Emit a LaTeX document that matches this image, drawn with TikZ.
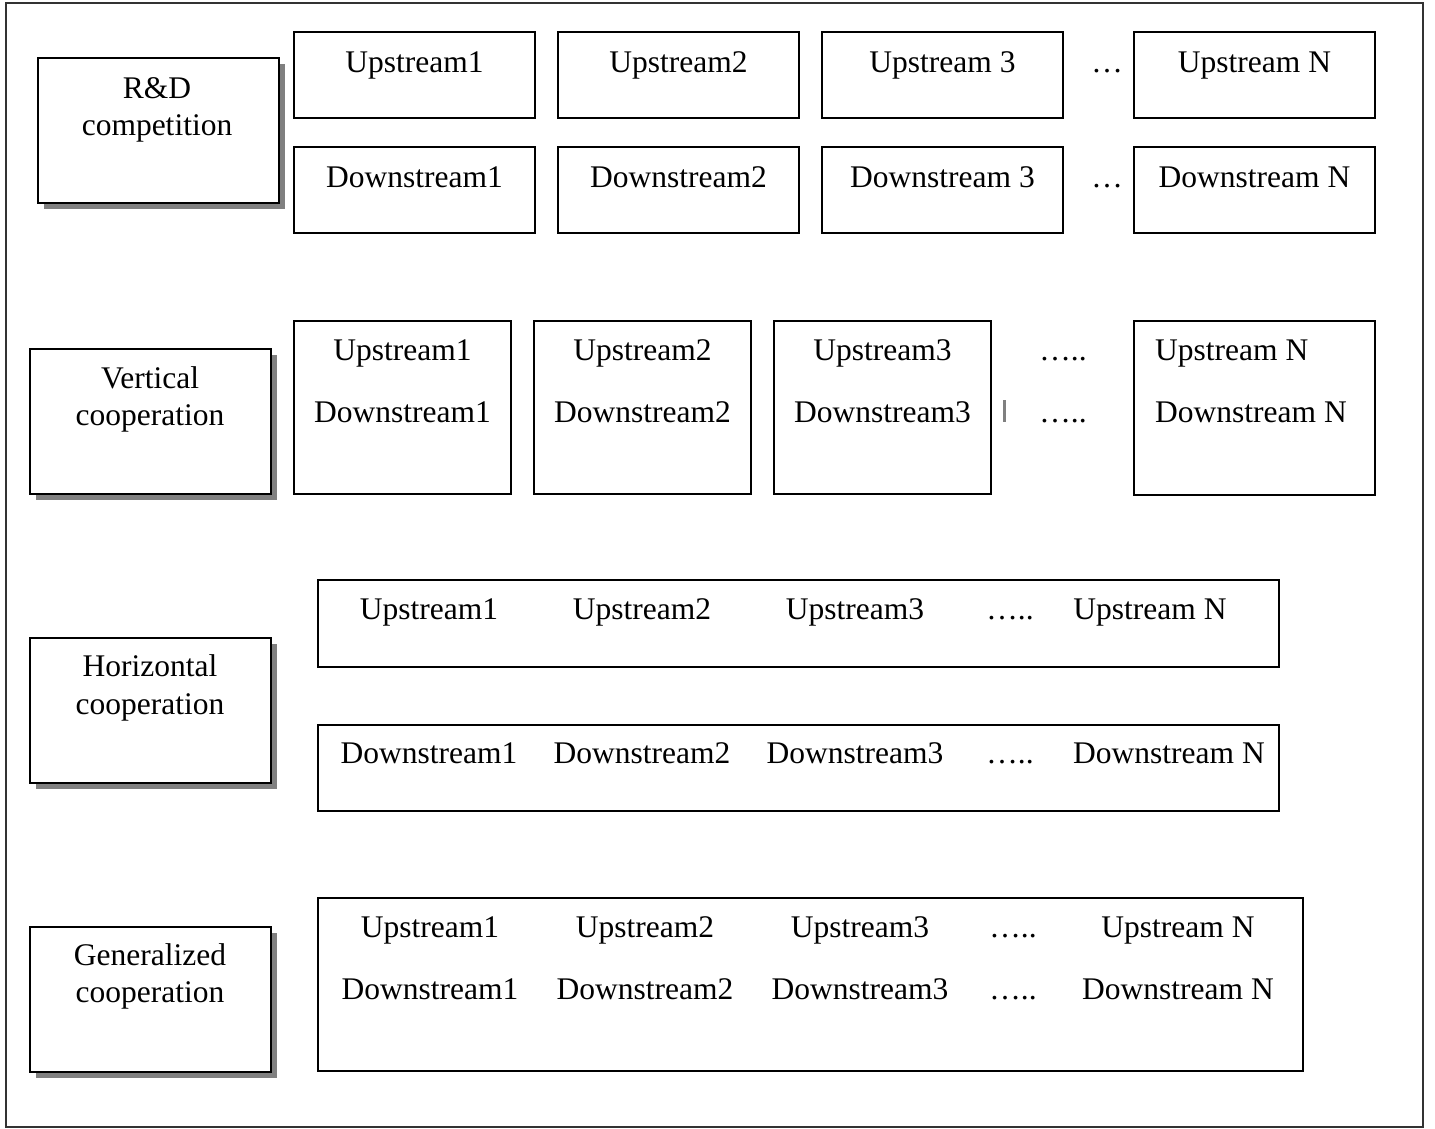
\documentclass[tikz,border=0pt]{standalone}
\usepackage{fontspec}
\setmainfont{Liberation Serif}
\usetikzlibrary{shadows}

\tikzset{
  frm/.style={draw, line width=2pt},
  stage/.style={frm, fill=white, anchor=north west, minimum width=241, minimum height=145,
    drop shadow={shadow xshift=6pt, shadow yshift=-6pt, fill=black!50, opacity=1}},
  firm/.style={frm, anchor=north west, inner sep=0pt},
  txt/.style={anchor=base, inner sep=0pt, font=\fontsize{31.5}{37}\selectfont},
}

\begin{document}
\begin{tikzpicture}[x=1pt,y=-1pt]
\useasboundingbox (0,0) rectangle (1435,1128);
\node[draw=black!80, line width=2pt, anchor=north west, minimum width=1417, minimum height=1124, inner sep=0pt] (frame) at (5,2) {};

% R&D competition
\node[stage] (rd) at (37,57) {};
\node[txt] at (157,98) {R\&D};
\node[txt] at (157,135) {competition};
\foreach \x/\u/\d [count=\i] in {293/Upstream1/Downstream1, 557/Upstream2/Downstream2, 821/Upstream 3/Downstream 3, 1133/Upstream N/Downstream N} {
  \node[firm, minimum width=241, minimum height=86] (up\i) at (\x,31) {};
  \node[txt] at ([yshift=-41pt]up\i.north) {\u};
  \node[firm, minimum width=241, minimum height=86] (dn\i) at (\x,146) {};
  \node[txt] at ([yshift=-41pt]dn\i.north) {\d};
}
\node[txt] (rddots1) at (1107,72) {…};
\node[txt] (rddots2) at (1107,187) {…};

% vertical cooperation
\node[stage] (vc) at (29,348) {};
\node[txt] at (150,388) {Vertical};
\node[txt] at (150,425) {cooperation};
\foreach \x/\j in {293/1, 533/2, 773/3} {
  \node[firm, minimum width=217, minimum height=173] (vbox\j) at (\x,320) {};
  \node[txt] at ([yshift=-40pt]vbox\j.north) {Upstream\j};
  \node[txt] at ([yshift=-102pt]vbox\j.north) {Downstream\j};
}
\node[firm, minimum width=241, minimum height=174] (vboxn) at (1133,320) {};
\node[txt, anchor=base west] at (1155,360) {Upstream N};
\node[txt, anchor=base west] at (1155,422) {Downstream N};
\node[fill=black!50, inner sep=0pt, minimum width=3, minimum height=22] (mark) at (1004.5,411) {};
\node[txt] (vdots1) at (1063,360) {…..};
\node[txt] (vdots2) at (1063,422) {…..};

% horizontal cooperation
\node[stage] (hc) at (29,637) {};
\node[txt] at (150,676) {Horizontal};
\node[txt] at (150,714) {cooperation};
\node[firm, minimum width=961, minimum height=87] (hup) at (317,579) {};
\node[firm, minimum width=961, minimum height=86] (hdn) at (317,724) {};
\foreach \x/\u in {429/Upstream1, 642/Upstream2, 855/Upstream3, 1010/….., 1150/Upstream N} {
  \node[txt] at (\x,619) {\u};
}
\foreach \x/\d in {429/Downstream1, 642/Downstream2, 855/Downstream3, 1010/….., 1169/Downstream N} {
  \node[txt] at (\x,763) {\d};
}

% generalized cooperation
\node[stage] (gc) at (29,926) {};
\node[txt] at (150,965) {Generalized};
\node[txt] at (150,1002) {cooperation};
\node[firm, minimum width=985, minimum height=173] (gbox) at (317,897) {};
\foreach \x/\u/\d in {430/Upstream1/Downstream1, 645/Upstream2/Downstream2, 860/Upstream3/Downstream3, 1013/…../….., 1178/Upstream N/Downstream N} {
  \node[txt] at (\x,937) {\u};
  \node[txt] at (\x,999) {\d};
}
\end{tikzpicture}
\end{document}
